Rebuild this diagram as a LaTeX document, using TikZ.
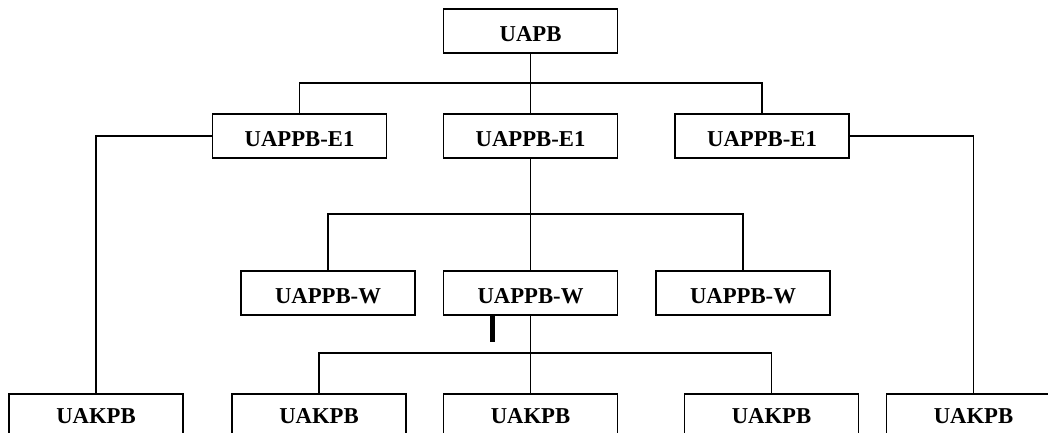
\documentclass[tikz,border=0pt]{standalone}
\usepackage{fontspec}
\setmainfont{Liberation Serif}
\begin{document}
\begin{tikzpicture}[x=1pt,y=-1pt,
  box/.style={draw, line width=1.3pt, minimum width=174pt, minimum height=44pt, inner sep=0pt,
    font=\fontsize{22.7pt}{27pt}\selectfont\bfseries, text height=21.3pt, text depth=0pt},
  lowbox/.style={box, text height=15.3pt},
  conn/.style={line width=1.3pt}]
\useasboundingbox (0,0) rectangle (1048,433);
\clip (0,0) rectangle (1048,433);
\node[box] (uapb) at (530.5,31) {UAPB};
\node[box] (e1l) at (299.5,136) {UAPPB-E1};
\node[box] (e1m) at (530.5,136) {UAPPB-E1};
\node[box] (e1r) at (762,136) {UAPPB-E1};
\node[box] (wl) at (328,293) {UAPPB-W};
\node[box] (wm) at (530.5,293) {UAPPB-W};
\node[box] (wr) at (743,293) {UAPPB-W};
\node[lowbox] (k1) at (96,416) {UAKPB};
\node[lowbox] (k2) at (319,416) {UAKPB};
\node[lowbox] (k3) at (530.5,416) {UAKPB};
\node[lowbox] (k4) at (771.5,416) {UAKPB};
\node[lowbox] (k5) at (973.5,416) {UAKPB};
\coordinate (j1) at (530.5,83);
\coordinate (j2) at (530.5,214);
\coordinate (j3) at (530.5,353);
\draw[conn] (uapb.south) -- (e1m.north);
\draw[conn] (e1l.north) |- (j1) -| (e1r.north);
\draw[conn] (e1l.west) -| (k1.north);
\draw[conn] (e1r.east) -| (k5.north);
\draw[conn] (e1m.south) -- (wm.north);
\draw[conn] (wl.north) |- (j2) -| (wr.north);
\draw[conn] (wm.south) -- (k3.north);
\draw[conn] (k2.north) |- (j3) -| (k4.north);
\draw[line width=5pt] ([xshift=-38pt,yshift=1pt]wm.south) -- ++(0,27);
\end{tikzpicture}
\end{document}
